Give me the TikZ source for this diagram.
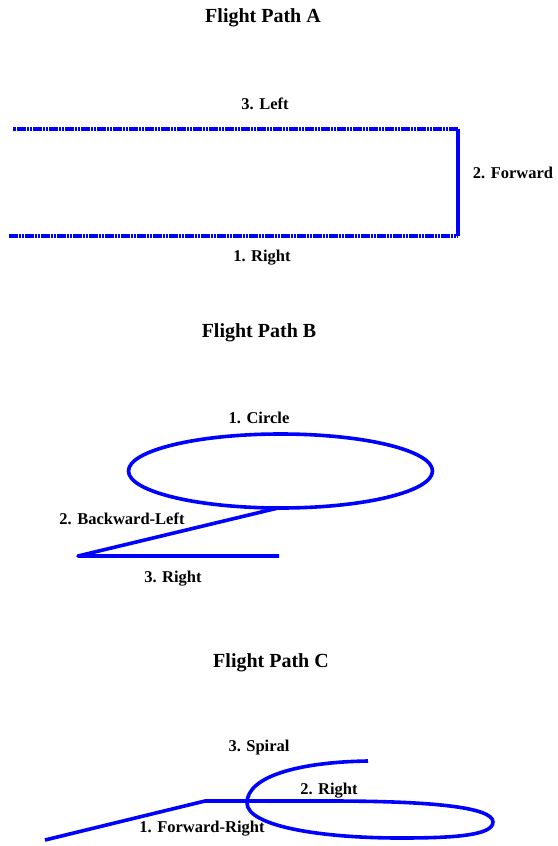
\documentclass[tikz,border=0pt]{standalone}
\usepackage{fontspec}
\setmainfont{Liberation Serif}
\begin{document}
\begin{tikzpicture}[x=1pt,y=-1pt,
  title/.style={font=\bfseries\fontsize{20}{22}\selectfont, inner sep=0pt},
  lbl/.style={font=\bfseries\fontsize{16.5}{18}\selectfont, inner sep=0pt},
  route/.style={draw=blue, line width=3.6pt, line join=round},
  dotroute/.style={draw=blue, line width=3.2pt, dash pattern=on 2.6pt off 0.6pt},
  solidroute/.style={draw=blue, line width=3.2pt}]
\useasboundingbox (0,0) rectangle (557,846);

% ---- Flight Path A: right, forward, left ----
\node[title] (tA) at (263,18) {Flight Path A};
\coordinate (a0) at (9,236);
\coordinate (a1) at (458,236);
\coordinate (a2) at (458,129);
\coordinate (a3) at (13,129);
\draw[dotroute] (a0) -- (a1);
\draw[solidroute] (a1) -- (a2);
\draw[dotroute] (a2) -- (a3);
\node[lbl] (lA1) at (262,258) {1. Right};
\node[lbl] (lA2) at (513,173) {2. Forward};
\node[lbl] (lA3) at (265,104) {3. Left};

% ---- Flight Path B: circle, backward-left, right ----
\node[title] (tB) at (259,333) {Flight Path B};
\coordinate (bc) at (280.5,471);
\draw[route] (bc) ellipse [x radius=152, y radius=37];
\coordinate (b0) at (278,508);
\coordinate (b1) at (78,556);
\coordinate (b2) at (279,556);
\draw[route] (b0) -- (b1) -- (b2);
\node[lbl] (lB1) at (259,418) {1. Circle};
\node[lbl] (lB2) at (122,519) {2. Backward-Left};
\node[lbl] (lB3) at (173,579) {3. Right};

% ---- Flight Path C: forward-right, right, spiral ----
\node[title] (tC) at (271,663) {Flight Path C};
\coordinate (c0) at (45,840);
\coordinate (c1) at (205,801);
\coordinate (c2) at (330,801);
\coordinate (c3) at (493,822);
\coordinate (c4) at (400,838);
\coordinate (c5) at (247,803);
\coordinate (c6) at (368,761);
\draw[route] (c0) -- (c1) -- (c2)
  .. controls (430,801) and (493,807) .. (c3)
  .. controls (493,836) and (450,838) .. (c4)
  .. controls (320,838) and (247,826) .. (c5)
  .. controls (247,776) and (300,762) .. (c6);
\node[lbl] (lC1) at (202,829) {1. Forward-Right};
\node[lbl] (lC2) at (329,791) {2. Right};
\node[lbl] (lC3) at (259,748) {3. Spiral};
\end{tikzpicture}
\end{document}
